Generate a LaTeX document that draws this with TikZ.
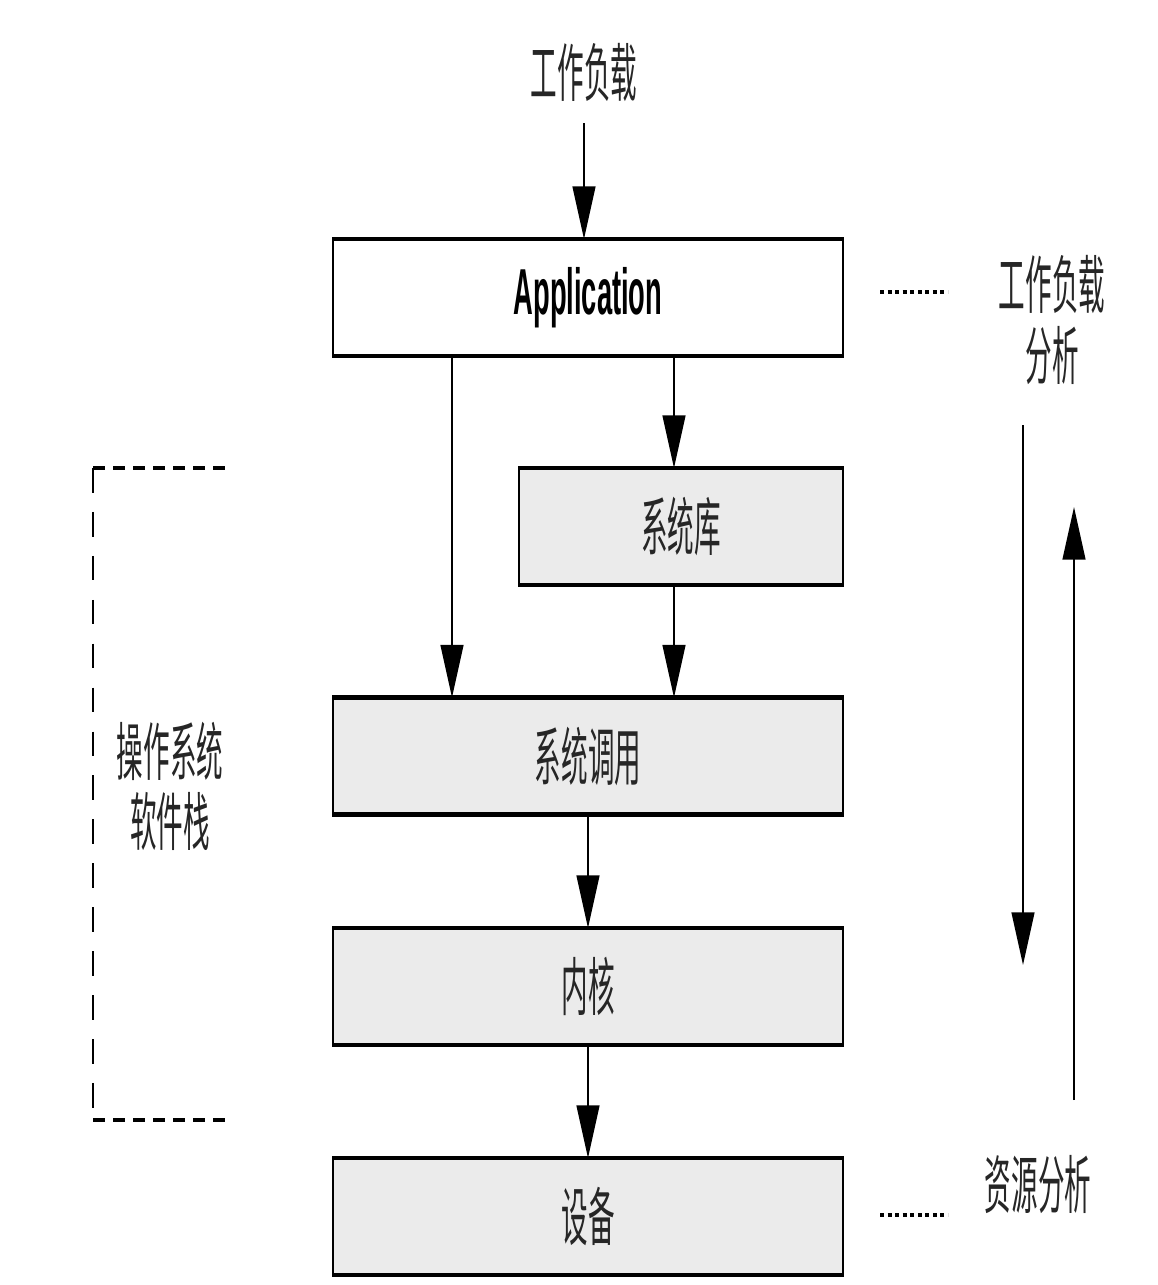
\documentclass[tikz,border=0pt]{standalone}
\usepackage{fontspec}
\setmainfont{Liberation Sans}
\newfontfamily\cjk[FakeStretch=0.42]{Noto Sans CJK SC}
\newfontfamily\appfont[FakeStretch=0.42]{Liberation Sans}
\usetikzlibrary{arrows.meta}
\tikzset{
  layer/.style={draw, line width=1.1pt, minimum width=10.2cm, minimum height=2.3cm,
    inner sep=0pt, fill=black!8, text=black!85, font=\cjk\fontsize{36pt}{40pt}\selectfont},
  tag/.style={inner sep=0pt, text=black!85, align=center, font=\cjk\fontsize{36pt}{40pt}\selectfont},
  edge/.style={line width=2.6pt},
  dots/.style={line width=2.4pt, dash pattern=on 2.3pt off 2pt},
  hdash/.style={line width=2.8pt, dash pattern=on 6.8pt off 4.6pt},
  vdash/.style={line width=1.6pt, dash pattern=on 14pt off 11pt}
}
\begin{document}
\begin{tikzpicture}[x=0.02cm, y=-0.02cm, >={Triangle[length=30pt,width=13pt]}, line width=1.1pt]
        \useasboundingbox (0,0) rectangle (1157,1285);
        % the stack
        \node[layer, fill=white, text=black, font=\appfont\bfseries\fontsize{37pt}{40pt}\selectfont] (app) at (588,297.5) {Application};
        \node[layer, minimum width=6.48cm] (lib) at (681,526.5) {系统库};
        \node[layer] (sys) at (588,756) {系统调用};
        \node[layer] (kern) at (588,986.5) {内核};
        \node[layer] (dev) at (588,1216.5) {设备};
        \foreach \n in {app,lib,sys,kern,dev}
            \draw[edge] (\n.north west) -- (\n.north east) (\n.south west) -- (\n.south east);
        % workload in
        \node[tag] (load) at (584,72) {工作负载};
        \draw[->] ([yshift=-12pt]load.south) -- (app.north -| load);
        \coordinate (lx) at (452,0);
        \coordinate (rx) at (674,0);
        \draw[->] (app.south -| lx) -- (sys.north -| lx);
        \draw[->] (app.south -| rx) -- (lib.north -| rx);
        \draw[->] (lib.south -| rx) -- (sys.north -| rx);
        \draw[->] (sys.south) -- (kern.north);
        \draw[->] (kern.south) -- (dev.north);
        % right side
        \node[tag] (wa) at (1052,320) {工作负载\\分析};
        \node[tag] (ra) at (1038,1185) {资源分析};
        \coordinate (wa0) at (880,292);
        \coordinate (wa1) at (948,292);
        \coordinate (ra0) at (880,1215);
        \coordinate (ra1) at (948,1215);
        \draw[dots] (wa0) -- (wa1);
        \draw[dots] (ra0) -- (ra1);
        \coordinate (dn0) at (1023,425);
        \coordinate (dn1) at (1023,965);
        \coordinate (up0) at (1074,1100);
        \coordinate (up1) at (1074,507);
        \draw[->] (dn0) -- (dn1);
        \draw[->] (up0) -- (up1);
        % os bracket
        \coordinate (ostl) at (93,468);
        \coordinate (ostr) at (225,468);
        \coordinate (osbl) at (93,1120);
        \coordinate (osbr) at (225,1120);
        \draw[hdash] (ostl) -- (ostr);
        \draw[hdash] (osbl) -- (osbr);
        \draw[vdash] (ostl) -- (osbl);
        \node[tag] (os) at (170,786) {操作系统\\软件栈};
\end{tikzpicture}
\end{document}
